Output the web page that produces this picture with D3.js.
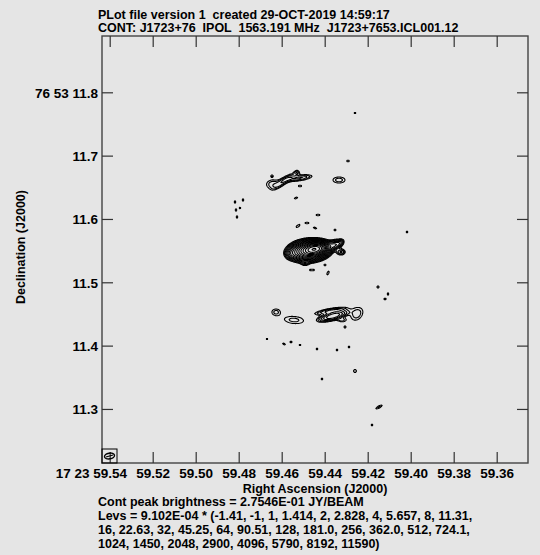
<!DOCTYPE html>
<html>
<head>
<meta charset="utf-8">
<script src="https://cdn.jsdelivr.net/npm/d3@7/dist/d3.min.js"></script>
<style>
  body { margin: 0; background: #e5e5e5; }
  svg text { font-family: "Liberation Sans", Arial, sans-serif; font-weight: bold; font-size: 12.5px; fill: #000; white-space: pre; }
  svg .axis text { font-size: 13.5px; }
</style>
</head>
<body>
<svg id="plot" width="540" height="555"></svg>
<script>
// header and footer text
var titleLines = ["PLot file version 1  created 29-OCT-2019 14:59:17",
  "CONT: J1723+76  IPOL  1563.191 MHz  J1723+7653.ICL001.12"];
var peakText = "Cont peak brightness = 2.7546E-01 JY/BEAM";

// axis ticks (RA in seconds of 17h23m, Dec in arcsec of +76d53m)
var raTicks = [59.54, 59.52, 59.50, 59.48, 59.46, 59.44, 59.42, 59.40, 59.38, 59.36];
var raTickLabels = ["17 23 59.54", "59.52", "59.50", "59.48", "59.46", "59.44", "59.42", "59.40", "59.38", "59.36"];
var decTicks = [11.8, 11.7, 11.6, 11.5, 11.4, 11.3];
var decTickLabels = ["76 53 11.8", "11.7", "11.6", "11.5", "11.4", "11.3"];

// contour levels
var levelBase = 9.102E-04;
var levelMultipliers = ["-1.41", "-1", "1", "1.414", "2", "2.828", "4", "5.657", "8", "11.31",
  "16", "22.63", "32", "45.25", "64", "90.51", "128", "181.0", "256", "362.0", "512", "724.1",
  "1024", "1450", "2048", "2900", "4096", "5790", "8192", "11590"];
var levelBreaks = [10, 22]; // where the Levs text wraps

// clean components:
// [ra (s), dec ("), peak (x levelBase), sigma major (mas), sigma minor (mas), angle (deg)]
var components = [
  // core and its surroundings
  [59.44451, 11.55250, 200, 9.0, 4.5, 10],
  [59.44730, 11.55000, 90, 13.0, 6.8, 5],
  [59.43567, 11.55889, 8, 6.3, 4.0, 20],
  [59.43290, 11.56220, 3, 4.5, 3.0, 40],
  [59.43242, 11.54783, 3, 4.5, 3.2, 0],
  [59.44916, 11.53046, 1.8, 4.2, 3.0, 0],
  [59.45521, 11.54468, 5, 5.5, 4.5, 0],
  [59.45242, 11.58889, 1.35, 4.7, 1.9, 35],
  [59.44823, 11.59362, 1.3, 4.7, 1.7, 0],
  [59.44451, 11.58573, 1.25, 4.0, 1.7, -25],
  [59.43521, 11.58257, 1.4, 1.9, 1.9, 0],
  [59.44312, 11.60626, 1.3, 4.7, 1.7, 0],
  [59.44591, 11.51941, 1.3, 6.3, 1.7, 0],
  [59.43986, 11.52731, 1.3, 2.4, 1.7, 0],
  [59.43846, 11.51467, 1.3, 4.7, 1.9, 60],
  // northern group
  [59.46451, 11.65521, 1.7, 8.4, 6.0, 10],
  [59.45893, 11.65994, 2.5, 13.5, 3.5, 35],
  [59.45195, 11.66468, 3, 14.0, 3.0, 8],
  [59.45288, 11.67257, 1.6, 3.2, 3.2, 0],
  [59.45149, 11.65205, 1.3, 4.0, 1.7, 0],
  [59.46451, 11.66784, 1.4, 1.9, 1.9, 0],
  [59.43335, 11.66152, 1.7, 9.2, 4.6, 0],
  [59.42916, 11.69152, 1.3, 3.2, 1.7, 0],
  [59.42591, 11.76731, 1.3, 2.4, 1.4, 0],
  [59.45335, 11.63310, 1.3, 4.0, 1.7, 30],
  [59.48172, 11.62678, 1.25, 1.7, 3.2, 0],
  [59.47800, 11.62994, 1.25, 1.7, 3.2, 0],
  [59.48126, 11.61415, 1.25, 1.7, 3.5, 0],
  [59.47940, 11.61731, 1.3, 1.7, 1.7, 0],
  [59.48079, 11.60310, 1.25, 1.7, 3.2, 0],
  // southern group
  [59.41521, 11.49257, 1.5, 1.9, 1.9, 0],
  [59.41056, 11.48152, 1.25, 1.7, 3.2, 0],
  [59.41195, 11.47362, 1.25, 3.2, 1.7, 0],
  [59.46265, 11.45309, 1.6, 6.5, 4.9, 0],
  [59.45428, 11.44046, 1.6, 15.5, 5.7, -5],
  [59.43753, 11.45467, 3, 16.5, 2.6, 10],
  [59.43614, 11.44678, 8, 13.0, 3.6, 15],
  [59.43195, 11.44046, 1.6, 5.5, 2.8, 0],
  [59.42498, 11.44994, 1.8, 10.0, 7.3, 50],
  [59.43056, 11.42941, 1.4, 1.9, 1.9, 0],
  [59.46684, 11.41046, 1.3, 1.6, 1.6, 0],
  [59.45893, 11.40257, 1.3, 3.2, 1.6, -30],
  [59.45567, 11.40572, 1.3, 3.2, 1.4, 0],
  [59.45149, 11.40099, 1.3, 2.4, 1.4, 0],
  [59.44358, 11.39467, 1.35, 1.7, 1.7, 0],
  [59.43428, 11.39309, 1.35, 1.7, 1.7, 0],
  [59.42870, 11.39783, 1.35, 1.7, 1.7, 0],
  [59.42591, 11.35992, 1.5, 2.6, 2.6, 0],
  [59.44126, 11.34730, 1.35, 1.7, 1.7, 0],
  [59.41474, 11.30309, 1.5, 6.3, 1.9, 30],
  [59.41800, 11.27467, 1.35, 1.7, 1.7, 0],
  [59.40172, 11.57941, 1.35, 1.7, 1.7, 0]
];

// restoring beam: FWHM major, minor (mas), position angle (deg)
var beam = [16, 9, 80];

var svg = d3.select("#plot");
var frame = {left: 102, right: 528, top: 36, bottom: 463};

// RA runs right to left, Dec bottom to top
var x = d3.scaleLinear()
  .domain([59.54 + 7.7 / 2150, 59.54 - (frame.right - 109.7) / 2150])
  .range([frame.left, frame.right]);
var y = d3.scaleLinear()
  .domain([11.8 + (92.3 - frame.top) / 633.3, 11.8 - (frame.bottom - 92.3) / 633.3])
  .range([frame.top, frame.bottom]);

var cosDec = Math.cos((76 + 53 / 60 + 11.55 / 3600) * Math.PI / 180);

// sample the brightness on a one pixel grid
var nx = frame.right - frame.left, ny = frame.bottom - frame.top;
var values = new Float64Array(nx * ny);
for (var j = 0; j < ny; j++) {
  var dec = y.invert(frame.top + j + 0.5);
  for (var i = 0; i < nx; i++) {
    var ra = x.invert(frame.left + i + 0.5);
    var v = 0;
    components.forEach(function (c) {
      var sx = (c[0] - ra) * 15 * cosDec * 1000, sy = (dec - c[1]) * 1000;
      var t = c[5] * Math.PI / 180;
      var u = sx * Math.cos(t) + sy * Math.sin(t);
      var w = -sx * Math.sin(t) + sy * Math.cos(t);
      var q = u * u / (2 * c[3] * c[3]) + w * w / (2 * c[4] * c[4]);
      if (q < 30) v += c[2] * Math.exp(-q);
    });
    values[j * nx + i] = v;
  }
}

// only the positive levels give closed contours here
var thresholds = levelMultipliers.map(Number).filter(function (d) { return d > 0; });
var contours = d3.contours().size([nx, ny]).thresholds(thresholds)(values);

svg.append("g")
  .attr("transform", "translate(" + frame.left + "," + frame.top + ")")
  .selectAll("path")
  .data(contours)
  .enter()
  .append("path")
  .attr("d", d3.geoPath())
  .attr("fill", "none")
  .attr("stroke", "#000")
  .attr("stroke-width", 1.1);

// frame
svg.append("rect")
  .attr("x", frame.left).attr("y", frame.top)
  .attr("width", nx).attr("height", ny)
  .attr("fill", "none")
  .attr("stroke", "#444")
  .attr("stroke-width", 1.4);

// inward ticks on all four sides
var tick = 11;
svg.append("g").attr("class", "axis bottom")
  .attr("transform", "translate(0," + frame.bottom + ")")
  .call(d3.axisBottom(x).tickValues(raTicks).tickSize(-tick).tickPadding(5)
    .tickFormat(function (d, i) { return raTickLabels[i]; }));
svg.append("g")
  .attr("transform", "translate(0," + frame.top + ")")
  .call(d3.axisTop(x).tickValues(raTicks).tickSize(-tick).tickFormat(""));
svg.append("g").attr("class", "axis left")
  .attr("transform", "translate(" + frame.left + ",0)")
  .call(d3.axisLeft(y).tickValues(decTicks).tickSize(-tick).tickPadding(4)
    .tickFormat(function (d, i) { return decTickLabels[i]; }));
svg.append("g")
  .attr("transform", "translate(" + frame.right + ",0)")
  .call(d3.axisRight(y).tickValues(decTicks).tickSize(-tick).tickFormat(""));

svg.selectAll(".domain").remove();
svg.selectAll(".tick line").attr("stroke", "#333").attr("stroke-width", 1.2);
svg.selectAll(".axis.left text").attr("dy", "0.36em");

// the first RA label keeps "59.54" centred on its tick
svg.select(".axis.bottom .tick text").each(function () {
  var t = d3.select(this);
  t.text("59.54");
  var w = this.getComputedTextLength();
  t.attr("text-anchor", "end").attr("x", w / 2).text(raTickLabels[0]);
});

// beam in the lower left corner
var beamBox = svg.append("g");
beamBox.append("rect")
  .attr("x", frame.left).attr("y", frame.bottom - 14)
  .attr("width", 15).attr("height", 14)
  .attr("fill", "none").attr("stroke", "#000").attr("stroke-width", 1);
var pxPerMas = Math.abs(y(11.8) - y(11.801));
beamBox.append("ellipse")
  .attr("cx", frame.left + 7.5).attr("cy", frame.bottom - 7)
  .attr("rx", beam[0] / 2 * pxPerMas).attr("ry", beam[1] / 2 * pxPerMas)
  .attr("transform", "rotate(" + (beam[2] - 90) + "," + (frame.left + 7.5) + "," + (frame.bottom - 7) + ")")
  .attr("fill", "none").attr("stroke", "#000").attr("stroke-width", 1.4);
beamBox.append("line")
  .attr("x1", frame.left + 4).attr("x2", frame.left + 11)
  .attr("y1", frame.bottom - 6).attr("y2", frame.bottom - 8)
  .attr("stroke", "#000").attr("stroke-width", 1.2);

// titles
svg.selectAll(".title")
  .data(titleLines)
  .enter()
  .append("text")
  .attr("x", 98)
  .attr("y", function (d, i) { return 19 + i * 13.3; })
  .text(function (d) { return d; });

svg.append("text")
  .attr("x", (frame.left + frame.right) / 2)
  .attr("y", 492.5)
  .attr("text-anchor", "middle")
  .text("Right Ascension (J2000)");

svg.append("text")
  .attr("transform", "translate(25,247) rotate(-90)")
  .attr("text-anchor", "middle")
  .text("Declination (J2000)");

// footer: peak and level list
var footer = [peakText,
  "Levs = " + levelBase.toExponential(3).toUpperCase().replace("E-4", "E-04") + " * (" +
    levelMultipliers.slice(0, levelBreaks[0]).join(", ") + ",",
  levelMultipliers.slice(levelBreaks[0], levelBreaks[1]).join(", ") + ",",
  levelMultipliers.slice(levelBreaks[1]).join(", ") + ")"];
svg.selectAll(".foot")
  .data(footer)
  .enter()
  .append("text")
  .attr("x", 98)
  .attr("y", function (d, i) { return 506 + i * 14; })
  .text(function (d) { return d; });
</script>
</body>
</html>
